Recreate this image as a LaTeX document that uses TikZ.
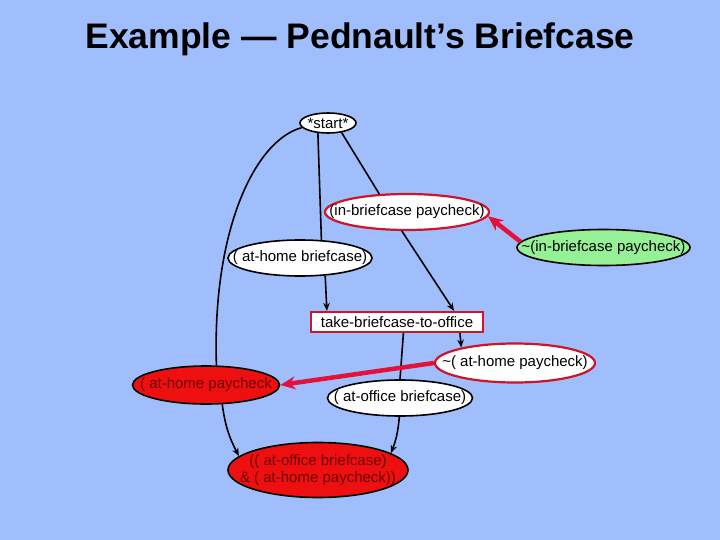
\documentclass[tikz,border=0pt]{standalone}
\usepackage{fontspec}
\setmainfont{Liberation Sans}
\usepackage{tikz}
\usetikzlibrary{arrows.meta,shapes.geometric}
\definecolor{slideblue}{RGB}{160,190,252}
\definecolor{condgreen}{RGB}{150,240,150}
\definecolor{condred}{RGB}{238,16,16}
\definecolor{darkred}{RGB}{110,0,0}
\definecolor{edgered}{RGB}{205,20,40}
\definecolor{linkred}{RGB}{228,18,58}
\newcommand{\lbl}[1]{\makebox[0pt]{#1}}
\tikzset{
  cond/.style    = {ellipse,draw=black,line width=1.6pt,fill=white,inner sep=0pt,
                    font=\fontsize{15}{17}\selectfont},
  badcond/.style = {cond,draw=edgered,line width=2.2pt},
  opbox/.style   = {rectangle,draw=edgered,line width=2.2pt,fill=white,inner sep=0pt,
                    minimum width=172pt,minimum height=20pt,font=\fontsize{15}{17}\selectfont},
  arc/.style     = {line width=1.6pt},
  arcarr/.style  = {arc,-{Stealth[length=8pt,width=6.5pt]}},
  redarr/.style  = {-{Stealth[length=15pt,width=13pt]},line width=4.5pt,linkred}
}

\begin{document}
\begin{tikzpicture}[x=1pt,y=1pt]
  \fill[slideblue] (0,0) rectangle (720,-540);
  \useasboundingbox (0,0) rectangle (720,-540);
  \node[anchor=base,font=\fontsize{35.5}{40}\selectfont\bfseries] (title) at (360,-49)
    {Example — Pednault’s Briefcase};

  \node[cond,minimum width=56pt,minimum height=20pt] (start) at (328,-123) {\lbl{*start*}};
  \node[badcond,minimum width=164pt,minimum height=36pt] (inbp) at (407,-212)
    {\lbl{(in-briefcase paycheck)}};
  \node[cond,fill=condgreen,minimum width=173pt,minimum height=36pt] (notinbp) at (603.5,-247.5)
    {\lbl{\textasciitilde(in-briefcase paycheck)}};
  \node[cond,minimum width=144pt,minimum height=36pt] (athb) at (300,-258) {\lbl{( at-home briefcase)}};
  \node[opbox] (take) at (397,-322) {take-briefcase-to-office};
  \node[badcond,minimum width=160pt,minimum height=39pt] (notathp) at (515,-363)
    {\lbl{\textasciitilde( at-home paycheck)}};
  \node[cond,fill=condred,text=darkred,minimum width=147pt,minimum height=38pt] (athp) at (206,-385)
    {\lbl{( at-home paycheck}};
  \node[cond,minimum width=145pt,minimum height=36pt] (atob) at (400,-398) {\lbl{( at-office briefcase)}};
  \node[cond,fill=condred,text=darkred,align=center,minimum width=180pt,minimum height=55pt] (goal)
    at (318,-470) {\lbl{(( at-office briefcase)}\\\lbl{\& ( at-home paycheck))}};

  \draw[arc] (start.190) .. controls (255,-140) and (212,-230) .. (athp.62);
  \draw[arc] (start.225) -- (athb.40);
  \draw[arc] (start.325) -- (inbp.147);
  \draw[arcarr] (athb.325) -- (take.171);
  \draw[arcarr] (inbp.255) -- (take.11);
  \draw[arcarr] (take.350) -- (notathp.164);
  \draw[arc] (take.300) -- (atob.north);
  \draw[arcarr] (athp.310) to[bend right=10] (goal.170);
  \draw[arcarr] (atob.268) to[bend left=8] (goal.13);
  \draw[redarr] (notathp.west) -- (athp.east);
  \draw[redarr] (notinbp.176) -- (inbp.357);
\end{tikzpicture}
\end{document}
